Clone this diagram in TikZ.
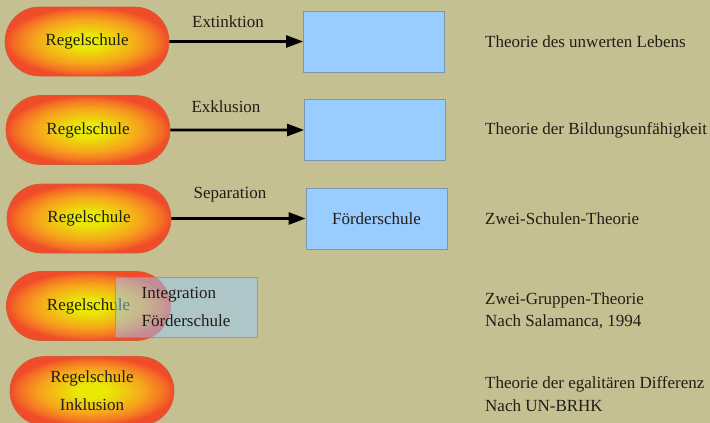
\documentclass[tikz,border=0pt]{standalone}
\usepackage{fontspec}
\setmainfont{Liberation Serif}
\usepackage{xcolor}
\usetikzlibrary{arrows.meta,shapes.misc}

\definecolor{bgtan}{RGB}{197,192,146}
\definecolor{ink}{RGB}{32,30,22}
\definecolor{capyel}{RGB}{234,232,6}
\definecolor{caporg}{RGB}{246,164,28}
\definecolor{capdeep}{RGB}{244,112,36}
\definecolor{capred}{RGB}{240,76,42}
\definecolor{capedge}{RGB}{210,92,58}
\definecolor{boxblue}{RGB}{153,204,255}
\definecolor{boxedge}{RGB}{122,150,178}
\pgfdeclareradialshading{capsule}{\pgfpoint{0bp}{0bp}}{%
  color(0bp)=(capyel); color(5bp)=(capyel); color(16bp)=(caporg);
  color(22bp)=(capdeep); color(25bp)=(capred); color(50bp)=(capred)}

\begin{document}
\begin{tikzpicture}[x=1pt, y=-1pt,
  every node/.style={font=\fontsize{17}{22.5}\selectfont, text=ink},
  capsule/.style={rounded rectangle, shading=capsule, draw=capedge,
    line width=0.7pt, minimum width=164pt, minimum height=69pt,
    inner sep=0pt, align=center},
  blubox/.style={rectangle, fill=boxblue, draw=boxedge, line width=0.8pt,
    minimum width=141pt, minimum height=61pt, inner sep=0pt},
  glass/.style={rectangle, fill=boxblue, fill opacity=0.5, text opacity=1,
    draw=boxedge, draw opacity=0.8, line width=0.8pt, minimum width=142pt,
    minimum height=60pt, inner sep=0pt, align=left},
  theory/.style={anchor=west, align=left, inner sep=0pt},
  flow/.style={line width=2.6pt, -{Triangle[length=17pt, width=12pt]}},
]
\useasboundingbox (0,0) rectangle (710,423);
\fill[bgtan] (0,0) rectangle (710,423);

% rows with arrow: capsule x / row y / box x / arrow label / box text / theory
\foreach \cx/\ry/\bx/\lx/\ly/\lab/\btxt/\th [count=\i] in {
  87/41.5/374/228/22/Extinktion/{}/Theorie des unwerten Lebens,
  88/130/375/226/107/Exklusion/{}/Theorie der Bildungsunfähigkeit,
  89/218.5/376.5/230/195/Separation/Förderschule/Zwei-Schulen-Theorie}{
  \node[capsule] (rs\i) at (\cx,\ry) {Regelschule};
  \node[blubox] (box\i) at (\bx,\ry) {\btxt};
  \draw[flow] (rs\i) -- (box\i);
  \node (lab\i) at (\lx,\ly) {\lab};
  \node[theory] (th\i) at (485,\ry) {\th};
}

% integration: box lies over the capsule
\node[capsule] (rs4) at (88.5,306) {Regelschule};
\node[glass, font=\fontsize{17}{28}\selectfont] (integ) at (186,307)
  {Integration\\Förderschule};
\node[theory] (th4) at (485,311) {Zwei-Gruppen-Theorie\\Nach Salamanca, 1994};

% inclusion
\node[capsule, font=\fontsize{17}{28}\selectfont] (rs5) at (92,391)
  {Regelschule\\Inklusion};
\node[theory] (th5) at (485,394)
  {Theorie der egalitären Differenz\\Nach UN-BRHK};
\end{tikzpicture}
\end{document}
